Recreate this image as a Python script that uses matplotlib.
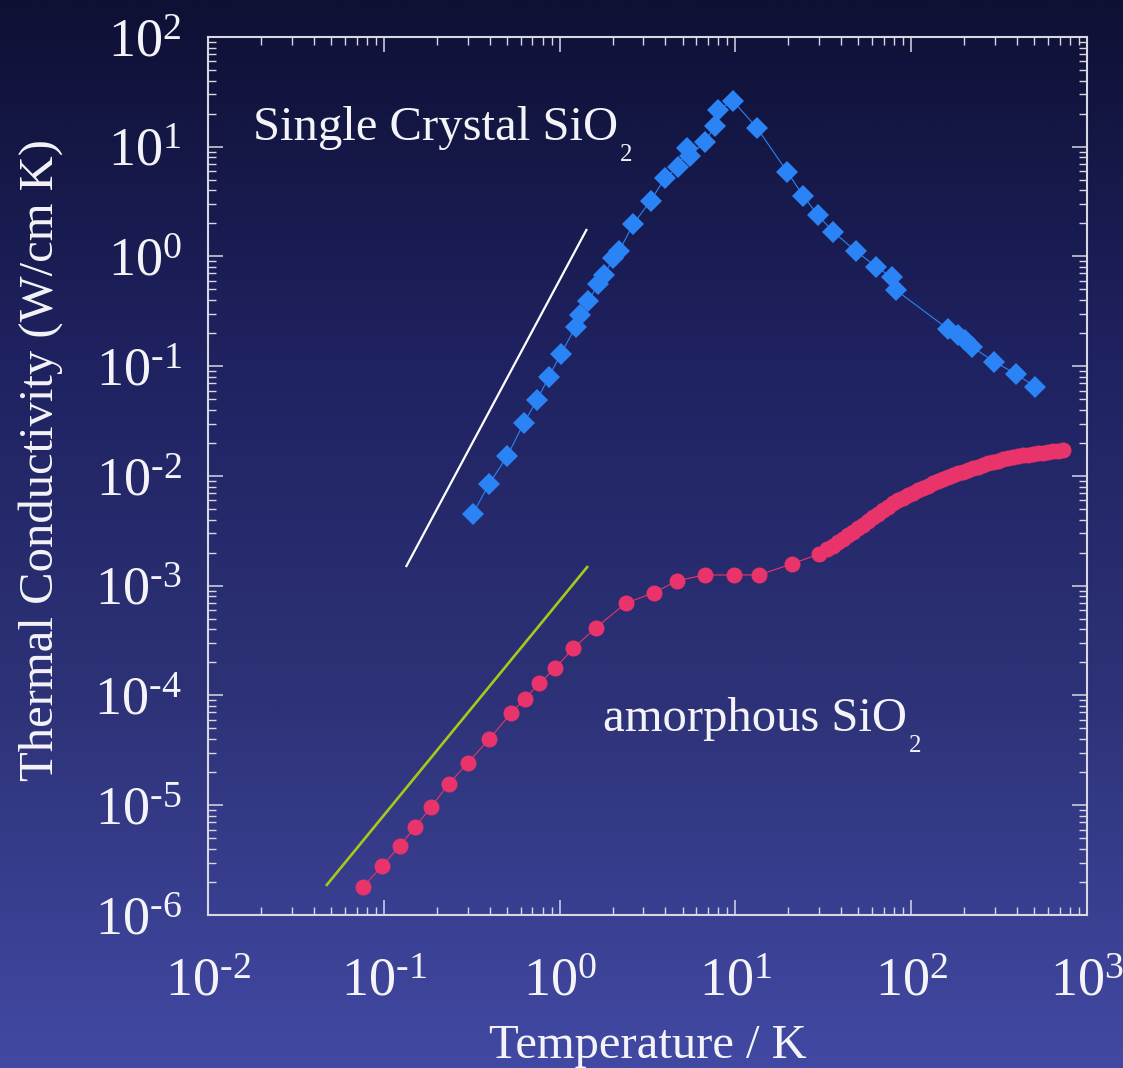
#!/usr/bin/env python3

import numpy as np
from matplotlib import pyplot as plt
from matplotlib import ticker
from matplotlib.colors import LinearSegmentedColormap

# Single crystal (quartz) thermal conductivity, W/cm K vs K
CRYSTAL_T = [0.320, 0.397, 0.504, 0.627, 0.744, 0.867, 1.015, 1.235, 1.306, 1.457,
             1.66, 1.789, 2.021, 2.186, 2.626, 3.298, 3.978, 4.733, 5.284, 5.518,
             6.716, 7.656, 7.992, 9.652, 13.22, 19.73, 24.33, 29.38, 36.06, 48.53,
             63.07, 77.45, 81.61, 162.6, 185.4, 202.3, 220.9, 295.8, 394.7, 506.0]
CRYSTAL_K = [4.48e-3, 8.45e-3, 0.0152, 0.0306, 0.0493, 0.0793, 0.129, 0.229, 0.293, 0.393,
             0.562, 0.678, 0.963, 1.129, 1.978, 3.224, 5.224, 6.5, 9.68, 8.236,
             11.12, 15.45, 21.6, 26.28, 14.92, 5.887, 3.558, 2.388, 1.672, 1.115,
             0.8075, 0.6463, 0.4953, 0.2171, 0.1926, 0.1734, 0.1507, 0.110, 0.085, 0.0651]

# Amorphous silica (glass)
AMORPH_T = [0.0764, 0.0981, 0.1231, 0.1505, 0.1863, 0.2339, 0.3013, 0.3967, 0.529, 0.6357,
            0.7666, 0.9451, 1.196, 1.611, 2.377, 3.443, 4.672, 6.69, 9.779, 13.62,
            20.9, 30.0, 33.07, 36.06, 38.48, 41.10, 43.87, 46.84, 50.02, 53.41,
            57.02, 60.87, 65.01, 69.39, 74.08, 79.10, 84.45, 90.16, 96.27, 102.8,
            109.7, 117.2, 125.1, 133.6, 142.6, 152.3, 162.6, 173.6, 185.3, 197.9,
            211.2, 225.5, 240.8, 257.1, 274.5, 293.1, 312.9, 334.1, 356.7, 380.9,
            406.6, 434.2, 463.6, 494.9, 528.4, 564.1, 602.5, 643.2, 686.6, 733.2]
AMORPH_K = [1.81e-6, 2.80e-6, 4.25e-6, 6.30e-6, 9.70e-6, 1.562e-5, 2.442e-5, 3.99e-5, 6.88e-5, 9.35e-5,
            1.292e-4, 1.78e-4, 2.69e-4, 4.147e-4, 6.92e-4, 8.64e-4, 1.111e-3, 1.253e-3, 1.253e-3, 1.253e-3,
            1.578e-3, 1.947e-3, 2.148e-3, 2.317e-3, 2.478e-3, 2.65e-3, 2.869e-3, 3.108e-3, 3.339e-3, 3.577e-3,
            3.875e-3, 4.204e-3, 4.544e-3, 4.90e-3, 5.263e-3, 5.64e-3, 5.99e-3, 6.34e-3, 6.70e-3, 7.04e-3,
            7.38e-3, 7.72e-3, 8.14e-3, 8.58e-3, 8.98e-3, 9.39e-3, 9.77e-3, 1.015e-2, 1.054e-2, 1.094e-2,
            1.134e-2, 1.175e-2, 1.218e-2, 1.259e-2, 1.30e-2, 1.341e-2, 1.381e-2, 1.42e-2, 1.45e-2, 1.481e-2,
            1.512e-2, 1.544e-2, 1.567e-2, 1.587e-2, 1.61e-2, 1.631e-2, 1.655e-2, 1.68e-2, 1.704e-2, 1.726e-2]

# T^3 and T^2 guide lines (end points)
GUIDE_T3_T = [0.1336, 1.43]
GUIDE_T3_K = [1.48e-3, 1.78]
GUIDE_T2_T = [0.0469, 1.45]
GUIDE_T2_K = [1.84e-6, 1.51e-3]

X_DECADES = [-2, -1, 0, 1, 2, 3]
Y_DECADES = [-6, -5, -4, -3, -2, -1, 0, 1, 2]

FG = '#f4f4f8'
SPINE = '#d8d8e4'

plt.rcParams['font.family'] = ['Liberation Serif', 'DejaVu Serif']
plt.rcParams['mathtext.fontset'] = 'stix'


def decade_label(v, pos):
  e = int(round(np.log10(v)))
  # short hyphen in the exponent rather than a full minus sign
  exp = str(e).replace('-', '\u2010')
  return r'$\mathregular{10^{%s}}$' % exp


def main():
  fig = plt.figure(figsize=(11.23, 10.68), dpi=100)

  # Vertical gradient backdrop
  bg = fig.add_axes([0, 0, 1, 1], zorder=-10)
  cmap = LinearSegmentedColormap.from_list('bg', ['#0e1034', '#1f2260', '#2e3379', '#4249a3'])
  grad = np.linspace(0, 1, 512).reshape(-1, 1)
  bg.imshow(grad, aspect='auto', cmap=cmap, extent=[0, 1, 0, 1], origin='upper')
  bg.axis('off')

  ax = fig.add_axes([0.1852, 0.1433, 0.7828, 0.8221])
  ax.set_facecolor('none')

  ax.plot(GUIDE_T3_T, GUIDE_T3_K, color='white', lw=1.6, solid_capstyle='butt')
  ax.plot(GUIDE_T2_T, GUIDE_T2_K, color='#a8c81a', lw=1.9, solid_capstyle='butt')

  ax.plot(CRYSTAL_T, CRYSTAL_K, color='#2a84f6', lw=0.8, marker='D', ms=10.8,
          markeredgewidth=0, markerfacecolor='#2a84f6')
  ax.plot(AMORPH_T, AMORPH_K, color='#e8346a', lw=0.8, marker='o', ms=11.5,
          markeredgewidth=0, markerfacecolor='#e8346a')

  ax.set_xscale('log')
  ax.set_yscale('log')
  ax.set_xlim(1e-2, 1e3)
  ax.set_ylim(1e-6, 1e2)

  ax.xaxis.set_major_locator(ticker.FixedLocator([10.0**e for e in X_DECADES]))
  ax.yaxis.set_major_locator(ticker.FixedLocator([10.0**e for e in Y_DECADES]))
  ax.xaxis.set_minor_locator(ticker.LogLocator(base=10, subs=np.arange(2, 10), numticks=20))
  ax.yaxis.set_minor_locator(ticker.LogLocator(base=10, subs=np.arange(2, 10), numticks=20))
  ax.xaxis.set_major_formatter(ticker.FuncFormatter(decade_label))
  ax.yaxis.set_major_formatter(ticker.FuncFormatter(decade_label))
  ax.xaxis.set_minor_formatter(ticker.NullFormatter())
  ax.yaxis.set_minor_formatter(ticker.NullFormatter())

  ax.tick_params(which='both', direction='in', top=True, right=True, colors=SPINE)
  ax.tick_params(which='major', length=11, width=1.1, labelsize=39, labelcolor=FG)
  ax.tick_params(which='minor', length=5.5, width=1.0)
  ax.tick_params(axis='x', which='major', pad=30)
  ax.tick_params(axis='y', which='major', pad=19)
  for s in ax.spines.values():
    s.set_color(SPINE)
    s.set_linewidth(1.5)

  ax.set_xlabel('Temperature / K', fontsize=35, color=FG)
  ax.xaxis.label.set_va('baseline')
  ax.xaxis.set_label_coords(0.5, -0.163)
  ax.set_ylabel('Thermal Conductivity (W/cm K)', fontsize=35, color=FG)
  ax.yaxis.label.set_va('center')
  ax.yaxis.set_label_coords(-0.19, 0.518)

  t1 = ax.text(0.01803, 11.52, 'Single Crystal SiO', fontsize=35, color=FG,
               ha='left', va='baseline')
  ax.annotate('2', xy=(1, 0), xycoords=t1, xytext=(1, -8.3), textcoords='offset points',
              fontsize=18, color=FG, ha='left', va='baseline')
  t2 = ax.text(1.766, 4.75e-5, 'amorphous SiO', fontsize=35, color=FG,
               ha='left', va='baseline')
  ax.annotate('2', xy=(1, 0), xycoords=t2, xytext=(1, -8.3), textcoords='offset points',
              fontsize=18, color=FG, ha='left', va='baseline')

  fig.savefig('out.png', dpi=100)


if __name__ == "__main__":
  main()
